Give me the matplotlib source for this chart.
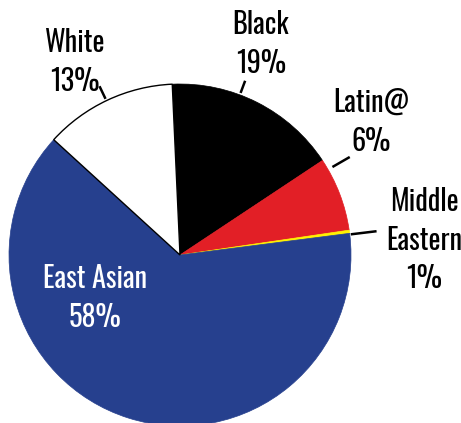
import numpy as np
import matplotlib.pyplot as plt

# wedge sizes (clockwise from just left of 12 o'clock)
groups = ['Black', 'Latin@', 'Middle Eastern', 'East Asian', 'White']
shares = [16.4, 7.0, 0.3, 63.8, 12.5]
labels = ['Black\n19%', 'Latin@\n6%', 'Middle\nEastern\n1%', 'East Asian\n58%', 'White\n13%']
colors = ['#000000', '#e21f26', '#fff200', '#26408e', '#ffffff']

W, H = 461, 423
cx, cy, R = 180, H - 255, 171


def main():
    plt.rcParams['font.family'] = ['Oswald', 'DejaVu Sans']
    fig = plt.figure(figsize=(W / 100, H / 100), dpi=100)
    ax = fig.add_axes([0, 0, 1, 1])
    wedges, _ = ax.pie(shares, colors=colors, startangle=92.6, counterclock=False,
                       center=(cx, cy), radius=R, frame=True)
    for w, c in zip(wedges, colors):
        if c == '#ffffff':
            w.set_edgecolor('black')
            w.set_linewidth(1.0)
        else:
            w.set_edgecolor(c)
            w.set_linewidth(0.5)
    ax.set_xlim(0, W)
    ax.set_ylim(0, H)
    ax.axis('off')

    # label positions (pixel coords, from top) and leader lines (angle, r0, r1)
    pos = [(261, 44), (371, 122), (424, 240), (95, 298), (75, 62)]
    leaders = [(69.5, 173, 186), (30.0, 176, 196), (6.9, 172, 198), None, (115.5, 173, 187)]
    for lab, (x, y), c, ld in zip(labels, pos, colors, leaders):
        tc = 'white' if c == '#26408e' else 'black'
        ax.text(x, H - y, lab, ha='center', va='center', fontsize=20.4,
                color=tc, linespacing=1.4)
        if ld:
            a = np.radians(ld[0])
            ax.plot([cx + ld[1] * np.cos(a), cx + ld[2] * np.cos(a)],
                    [cy + ld[1] * np.sin(a), cy + ld[2] * np.sin(a)],
                    color='black', lw=1.8, solid_capstyle='butt')

    fig.savefig('out.png', dpi=100)


if __name__ == '__main__':
    main()
